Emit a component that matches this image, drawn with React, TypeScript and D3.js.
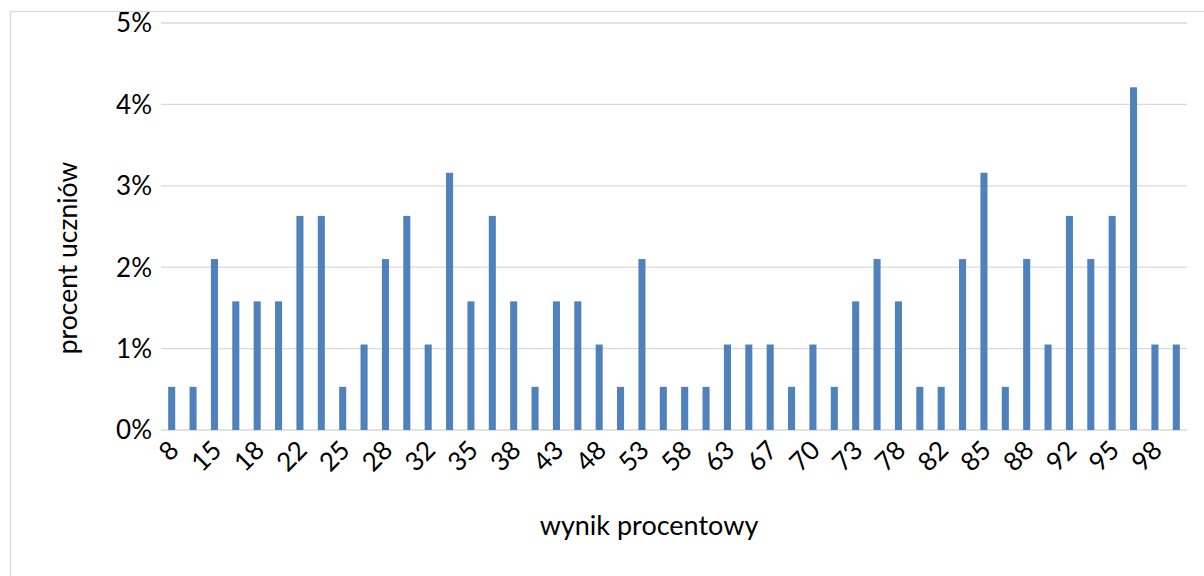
import React, { useEffect, useRef } from 'react';
import * as d3 from 'd3';

// wynik procentowy (every other category is labelled on the axis)
const categories = [
  8, 13, 15, 17, 18, 20, 22, 23, 25, 27, 28, 30, 32, 33, 35, 37, 38, 40, 43, 45, 48, 50, 53, 55,
  58, 60, 63, 65, 67, 68, 70, 72, 73, 75, 78, 80, 82, 83, 85, 87, 88, 90, 92, 93, 95, 97, 98, 100,
];
// procent uczniów
const values = [
  0.53, 0.53, 2.1, 1.58, 1.58, 1.58, 2.63, 2.63, 0.53, 1.05, 2.1, 2.63, 1.05, 3.16, 1.58, 2.63,
  1.58, 0.53, 1.58, 1.58, 1.05, 0.53, 2.1, 0.53, 0.53, 0.53, 1.05, 1.05, 1.05, 0.53, 1.05, 0.53,
  1.58, 2.1, 1.58, 0.53, 0.53, 2.1, 3.16, 0.53, 2.1, 1.05, 2.63, 2.1, 2.63, 4.21, 1.05, 1.05,
];
const yTicks = [0, 1, 2, 3, 4, 5];

const App = () => {
  const ref = useRef<SVGSVGElement>(null);
  const svgWidth = 1204;
  const svgHeight = 576;
  const plot = { left: 161, right: 1187, top: 23, bottom: 430 };

  useEffect(() => {
    const svg = d3.select(ref.current);
    svg.selectAll('*').remove();

    const font = 'Lato, "Open Sans", sans-serif';

    // outer chart frame (cropped at the right and bottom)
    svg.append('rect')
      .attr('x', 10.5).attr('y', 11.5)
      .attr('width', 1300).attr('height', 700)
      .attr('fill', 'white')
      .attr('stroke', '#d9d9d9').attr('stroke-width', 1.25);

    const x = d3.scaleBand<number>()
      .domain(d3.range(categories.length))
      .range([plot.left, plot.right])
      .paddingInner(0.67)
      .paddingOuter(0.335);

    const y = d3.scaleLinear().domain([0, 5]).range([plot.bottom, plot.top]);

    // gridlines
    svg.append('g')
      .selectAll('line')
      .data(yTicks)
      .enter()
      .append('line')
      .attr('x1', plot.left).attr('x2', plot.right)
      .attr('y1', d => y(d)).attr('y2', d => y(d))
      .attr('stroke', '#d9d9d9').attr('stroke-width', 1.3);

    // y tick labels
    svg.append('g')
      .selectAll('text')
      .data(yTicks)
      .enter()
      .append('text')
      .attr('x', 152)
      .attr('y', d => y(d))
      .attr('dy', '0.36em')
      .attr('text-anchor', 'end')
      .attr('font-family', font).attr('font-size', 26).attr('fill', '#000')
      .text(d => `${d}%`);

    // bars
    svg.append('g')
      .selectAll('rect')
      .data(values)
      .enter()
      .append('rect')
      .attr('x', (d, i) => x(i)!)
      .attr('width', x.bandwidth())
      .attr('y', d => y(d))
      .attr('height', d => y(0) - y(d))
      .attr('fill', '#4f81bd');

    // x tick labels, every other category, rotated -45
    svg.append('g')
      .selectAll('text')
      .data(categories.map((c, i) => ({ c, i })).filter(d => d.i % 2 === 0))
      .enter()
      .append('text')
      .attr('transform', d => `translate(${x(d.i)! + x.bandwidth() / 2 - 5},${plot.bottom + 8}) rotate(-45)`)
      .attr('text-anchor', 'end')
      .attr('dy', '0.75em')
      .attr('font-family', font).attr('font-size', 26).attr('fill', '#000')
      .text(d => d.c);

    // axis titles
    svg.append('text')
      .attr('x', 649)
      .attr('y', 535)
      .attr('text-anchor', 'middle')
      .attr('font-family', font).attr('font-size', 27).attr('fill', '#000')
      .text('wynik procentowy');

    svg.append('text')
      .attr('transform', `translate(77,258) rotate(-90)`)
      .attr('text-anchor', 'middle')
      .attr('font-family', font).attr('font-size', 26.5).attr('fill', '#000')
      .text('procent uczniów');
  }, []);

  return (
    <svg
      ref={ref}
      width={svgWidth}
      height={svgHeight}
      style={{ position: 'absolute', left: 0, top: 0, background: 'white' }}
    />
  );
};

export default App;
